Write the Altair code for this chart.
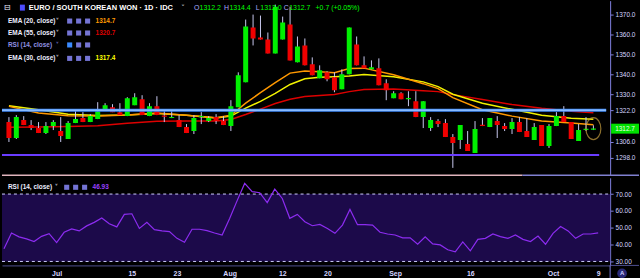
import altair as alt
import pandas as pd
import numpy as np

# ---------------- data ----------------
bar_index = list(range(80))
open_ = [1316, 1308, 1317, 1314.5, 1313, 1310.5, 1314, 1311.5, 1307.5, 1315.5,
         1318, 1316, 1317.5, 1322.5, 1323.5, 1321, 1319, 1324.5, 1327.5, 1319,
         1324, 1319, 1318, 1317, 1313.5, 1311.5, 1318.5, 1316.5, 1318.5, 1316.5,
         1314, 1323.5, 1336, 1363.5, 1358.5, 1357.5, 1350.5, 1357.5, 1365, 1346,
         1354.5, 1345, 1338, 1341, 1338.5, 1332.5, 1340, 1355, 1344.5, 1342.5,
         1343, 1335.5, 1328, 1330.5, 1327.5, 1326.5, 1318.5, 1313, 1316.5, 1315.5,
         1308.5, 1307, 1305, 1300.5, 1314.2, 1313.5, 1316.5, 1314, 1312.5, 1316,
         1311.5, 1307, 1314.5, 1304, 1314, 1319, 1316, 1306.5, 1312, 1312.2]
high = [1318.5, 1319.5, 1319, 1317, 1316, 1316, 1317, 1318.5, 1316.5, 1322.5,
        1321, 1320, 1326, 1325.5, 1325, 1325.5, 1328.5, 1330.5, 1329.5, 1325.5,
        1329, 1322.5, 1321.5, 1319.5, 1315, 1319.5, 1321, 1319, 1320, 1319,
        1327, 1341, 1367.5, 1370, 1369.5, 1361, 1375, 1369, 1374, 1359,
        1358, 1348.5, 1344.5, 1341.5, 1341, 1342.5, 1363.5, 1359, 1349, 1347,
        1348, 1337.5, 1331.5, 1331, 1331.5, 1331.5, 1326.5, 1318.5, 1317.5, 1317.5,
        1310, 1314.5, 1311.5, 1316.5, 1318, 1318, 1319, 1315.5, 1318, 1318.5,
        1318, 1315.5, 1314.5, 1315, 1321, 1324, 1316, 1315, 1318.5, 1314.4]
low = [1306, 1307.5, 1314.5, 1312, 1310.5, 1310, 1312, 1306, 1307.5, 1315.5,
       1316, 1316, 1317.5, 1322.5, 1321, 1319.5, 1319, 1324.5, 1319.5, 1319,
       1319.5, 1316, 1318, 1313.5, 1310.5, 1310, 1315, 1316, 1315, 1314.5,
       1311.5, 1323.5, 1336, 1354.5, 1357.5, 1350.5, 1350.5, 1357.5, 1347, 1346,
       1344.5, 1339.5, 1338, 1336.5, 1331, 1332.5, 1340, 1344.5, 1343, 1342.5,
       1334.5, 1327, 1328, 1327.5, 1324, 1318.5, 1313, 1311.5, 1313.5, 1308.5,
       1293, 1302.5, 1301.5, 1300.5, 1314, 1313.5, 1308, 1311.5, 1310, 1311,
       1308.5, 1307, 1304, 1303, 1314, 1316, 1307.5, 1306.5, 1311.5, 1312.0]
close = [1308, 1318.5, 1314.5, 1313, 1310.5, 1314, 1316, 1309, 1315.5, 1317.5,
         1316, 1319, 1321.5, 1324.5, 1321, 1319.5, 1328, 1328.5, 1319.5, 1324,
         1319.5, 1318.7, 1318.3, 1313.5, 1310.5, 1318, 1318.6, 1318, 1316.5, 1314.5,
         1324, 1339.5, 1364, 1358, 1357.5, 1350.5, 1374, 1366, 1347, 1354,
         1344.5, 1339.5, 1342, 1337.5, 1332, 1340, 1363.5, 1344.5, 1343, 1343.5,
         1334.5, 1332, 1330.5, 1327.5, 1327.6, 1318.5, 1326.5, 1317, 1315, 1308.5,
         1305.5, 1314.5, 1301.5, 1312.5, 1314, 1318, 1314.5, 1312.5, 1316, 1311,
         1308.5, 1313.5, 1304, 1314, 1319, 1316, 1307.5, 1312, 1312.0, 1312.7]

ema_idx = [0, 4, 8, 12, 16, 20, 24, 28, 30, 32, 34, 36, 38, 40, 42, 44, 46, 48,
           52, 56, 58, 60, 64, 68, 72, 76, 79]
ema20 = [1323.9, 1320.6, 1319.2, 1319.0, 1319.6, 1320.6, 1319.4, 1318.2, 1319.4,
         1325.5, 1330.8, 1335.8, 1340.6, 1341.7, 1341.3, 1340.8, 1342.9, 1343.1,
         1339.8, 1335.3, 1332.8, 1328.3, 1322.2, 1319.0, 1316.6, 1315.5, 1314.7]
ema30 = [1324.2, 1322.2, 1319.9, 1319.3, 1319.6, 1320.3, 1319.4, 1318.0, 1319.0,
         1323.0, 1326.4, 1330.4, 1334.9, 1337.8, 1338.5, 1338.8, 1339.1, 1339.9,
         1338.8, 1336.2, 1333.8, 1330.0, 1325.5, 1322.4, 1319.4, 1317.9, 1317.4]
ema55 = [1313.4, 1313.5, 1313.8, 1314.2, 1315.4, 1316.4, 1316.5, 1316.6, 1317.3,
         1319.8, 1322.5, 1325.3, 1327.5, 1328.8, 1329.3, 1329.9, 1331.3, 1332.4,
         1332.6, 1331.8, 1331.3, 1329.8, 1327.3, 1324.8, 1322.9, 1321.5, 1320.7]

rsi = [37.5, 46.9, 44.6, 43.4, 41.8, 44.9, 46.5, 41.2, 47.3, 49.3,
       48.1, 51.1, 53.2, 55.8, 52.4, 50.5, 57.9, 58.3, 49.6, 53.2,
       48.9, 48.1, 47.7, 43.7, 41.4, 49.1, 49.1, 48.3, 46.9, 45.7,
       55.5, 66.1, 76.3, 71.4, 70.8, 64.9, 72.9, 67.4, 55.6, 57.9,
       53.6, 51.2, 52.0, 49.6, 46.7, 51.6, 60.9, 51.8, 51.8, 51.6,
       47.3, 46.3, 45.7, 44.0, 44.0, 40.2, 44.6, 40.4, 39.8, 36.9,
       35.7, 41.6, 36.3, 43.1, 43.7, 46.3, 44.7, 43.7, 45.7, 43.1,
       41.8, 45.1, 40.2, 46.7, 50.7, 48.1, 43.7, 46.3, 46.3, 46.93]

tick_idx = [7, 17, 23, 30, 37, 43, 52, 62, 73, 79]
tick_lbl = ["Jul", "15", "23", "Aug", "12", "20", "Sep", "16", "Oct", "9"]
price_ticks = [1370, 1360, 1350, 1340, 1330, 1322, 1306, 1298]
rsi_ticks = [70, 60, 50, 40, 30]
resistance = [1322.0]
support = [1299.5]
rsi_levels = [70, 30]

# ---------------- layout constants ----------------
W = 611
H_MAIN = 175
H_RSI = 88
FONT = "Liberation Sans"
xs = alt.Scale(domain=[-0.265, 80.59], nice=False, zero=False)
ps = alt.Scale(domain=[1289.5, 1377.0], nice=False, zero=False)
rs = alt.Scale(domain=[27.64, 79.63], nice=False, zero=False)

main_axis = alt.Axis(orient="right", values=price_ticks, format=".1f", title=None, grid=False,
                     labelFontSize=6.5, labelColor="#d4d4ff", labelFont=FONT, tickColor="#8080e0",
                     tickSize=3, domainColor="#8080e0", labelPadding=2)
rsi_axis = alt.Axis(orient="right", values=rsi_ticks, format=".2f", title=None, grid=False,
                    labelFontSize=6.5, labelColor="#d4d4ff", labelFont=FONT, tickColor="#8080e0",
                    tickSize=3, domainColor="#8080e0", labelPadding=2)
lbl_expr = "".join(f"datum.value == {i} ? '{l}' : " for i, l in zip(tick_idx, tick_lbl)) + "''"
x_axis = alt.Axis(values=tick_idx, labelExpr=lbl_expr, title=None, grid=False, ticks=False,
                  domainColor="#505090", labelColor="#d4d4ff", labelFontSize=7,
                  labelFontWeight="bold", labelPadding=4, labelFont=FONT, labelFlush=False,
                  labelOverlap=False)

dummy = alt.Data(values=[{"k": 0}])


def txt(px, py, s, color, size=6.5, weight="bold", align="left", font=FONT):
    return alt.Chart(dummy).mark_text(text=s, align=align, baseline="middle", color=color,
                                      fontSize=size, fontWeight=weight, font=font).encode(
        x=alt.value(px), y=alt.value(py))


def icon(px, py, color):
    return alt.Chart(dummy).mark_square(size=26, color=color, opacity=1).encode(
        x=alt.value(px), y=alt.value(py))


def hrule(data, field, scale, axis, x0, x1, color, width, dash=None):
    kw = dict(color=color, strokeWidth=width)
    if dash:
        kw["strokeDash"] = dash
    return alt.Chart(data).mark_rule(**kw).encode(
        x=alt.value(x0), x2=alt.value(x1), y=alt.Y(field, scale=scale, axis=axis))


# ---------------- main (price) panel ----------------
cd = pd.DataFrame({"i": bar_index, "o": open_, "h": high, "l": low, "c": close})
cd["lo"] = cd[["o", "c"]].min(axis=1)
cd["hi"] = np.maximum(cd[["o", "c"]].max(axis=1), cd["lo"] + 0.6)
cd["dir"] = np.where(cd["c"] >= cd["o"], "up", "down")

ed = pd.DataFrame({"i": ema_idx, "EMA20": ema20, "EMA30": ema30, "EMA55": ema55})


def ema_line(col, color):
    return alt.Chart(ed).mark_line(color=color, strokeWidth=1.5, clip=True).encode(
        x=alt.X("i:Q", scale=xs, axis=None), y=alt.Y(f"{col}:Q", scale=ps, axis=main_axis))


wicks = alt.Chart(cd).mark_rule(color="#c8c8ee", strokeWidth=1, clip=True).encode(
    x=alt.X("i:Q", scale=xs, axis=None), y=alt.Y("l:Q", scale=ps, axis=main_axis), y2="h:Q")
bodies = alt.Chart(cd).mark_bar(width=5, clip=True).encode(
    x=alt.X("i:Q", scale=xs, axis=None), y=alt.Y("lo:Q", scale=ps, axis=main_axis), y2="hi:Q",
    color=alt.Color("dir:N", scale=alt.Scale(domain=["up", "down"], range=["#00f000", "#f00000"]),
                    legend=None))

res_df = pd.DataFrame({"p": resistance})
sup_df = pd.DataFrame({"p": support})
res_outer = hrule(res_df, "p:Q", ps, main_axis, 0, 607, "#3f8cff", 3)
res_inner = hrule(res_df, "p:Q", ps, main_axis, 0, 607, "#b4d8ff", 1)
sup_line = hrule(sup_df, "p:Q", ps, main_axis, 0, 600, "#6a3cff", 2)

last = cd.iloc[[-1]]
ellipse = alt.Chart(last).mark_point(
    shape="M -0.68 0 A 0.68 1 0 1 0 0.68 0 A 0.68 1 0 1 0 -0.68 0 Z",
    size=484, filled=False, stroke="#c8a040", strokeWidth=1.2).encode(
    x=alt.X("i:Q", scale=xs, axis=None), y=alt.Y("c:Q", scale=ps, axis=main_axis))

sep1 = alt.Chart(dummy).mark_rule(color="#e0b4bc", strokeWidth=1.5).encode(
    x=alt.value(0), x2=alt.value(523), y=alt.value(175.5))
sep2 = alt.Chart(dummy).mark_rule(color="#8080d0", strokeWidth=1.5).encode(
    x=alt.value(523), x2=alt.value(640), y=alt.value(175.5))

last_close = close[-1]
box_df = pd.DataFrame({"t": [last_close + 2.5], "b": [last_close - 2.5], "p": [last_close],
                       "s": [f"{last_close:.1f}"]})
price_box = alt.Chart(box_df).mark_rect(color="#00e000").encode(
    x=alt.value(612), x2=alt.value(640), y=alt.Y("t:Q", scale=ps, axis=main_axis), y2="b:Q")
price_txt = alt.Chart(box_df).mark_text(color="#eaffea", fontSize=6.5, font=FONT, align="center",
                                        baseline="middle").encode(
    x=alt.value(626), y=alt.Y("p:Q", scale=ps, axis=main_axis), text="s:N")

chg = close[-1] - close[-2]
GREEN = "#00ff00"
LAV = "#a8a8ff"
WHITE = "#eeeeff"
legend_main = [
    txt(2, 7, "⊟", WHITE, 8, "normal", font="DejaVu Sans"),
    alt.Chart(dummy).mark_rect(color="#4d4dff").encode(
        x=alt.value(18), x2=alt.value(23), y=alt.value(4), y2=alt.value(10)),
    txt(27, 7, "EURO / SOUTH KOREAN WON · 1D · IDC", "#ffffff", 7.5),
    txt(180, 7, "˅", WHITE, 7, "normal", font="DejaVu Sans"),
    txt(193, 7, "O", LAV, 7, "normal"), txt(198.5, 7, f"{open_[-1]:.1f}", GREEN, 7, "normal"),
    txt(223, 7, "H", LAV, 7, "normal"), txt(228.5, 7, f"{high[-1]:.1f}", GREEN, 7, "normal"),
    txt(255, 7, "L", LAV, 7, "normal"), txt(259.5, 7, f"{low[-1]:.1f}", GREEN, 7, "normal"),
    txt(283, 7, "C", LAV, 7, "normal"), txt(288.5, 7, f"{close[-1]:.1f}", GREEN, 7, "normal"),
    txt(315, 7, f"{chg:+.1f} ({chg / close[-2] * 100:+.2f}%)", GREEN, 7, "normal"),
]
rows = [(20.5, "EMA (20, close)", f"{ema20[-1]:.1f}", "#ff9800", WHITE, "#7474d4"),
        (32.5, "EMA (55, close)", f"{ema55[-1]:.1f}", "#dd0000", WHITE, "#7474d4"),
        (44.5, "RSI (14, close)", "", "#9040f0", "#9090e0", "#3b8bff"),
        (58.0, "EMA (30, close)", f"{ema30[-1]:.1f}", "#ffff00", WHITE, "#7474d4")]
for (py, name, val, vcol, ncol, icol) in rows:
    legend_main.append(txt(6, py, name, ncol, 6.5))
    legend_main.append(txt(54, py, "˅", ncol, 6.5, "normal", font="DejaVu Sans"))
    legend_main.append(icon(68, py, icol))
    legend_main.append(icon(77, py, "#7474d4"))
    legend_main.append(icon(86, py, "#7474d4"))
    if val:
        legend_main.append(txt(94, py, val, vcol, 6.5))

main = alt.layer(
    ema_line("EMA55", "#dd0000"), ema_line("EMA30", "#f2f200"), ema_line("EMA20", "#ff9800"),
    wicks, bodies, res_outer, res_inner, sup_line, ellipse, sep1, sep2,
    price_box, price_txt, *legend_main
).properties(width=W, height=H_MAIN)

# ---------------- RSI panel ----------------
rd = pd.DataFrame({"i": bar_index, "rsi": rsi})
band_df = pd.DataFrame({"t": [rsi_levels[0]], "b": [rsi_levels[1]]})
band = alt.Chart(band_df).mark_rect(color="#1c0a4a").encode(
    x=alt.value(0), x2=alt.value(W), y=alt.Y("t:Q", scale=rs, axis=rsi_axis), y2="b:Q")
lv = hrule(pd.DataFrame({"v": rsi_levels}), "v:Q", rs, rsi_axis, 0, W, "#d0d0ff", 1, [3, 3])
rsi_line = alt.Chart(rd).mark_line(color="#8c2cf0", strokeWidth=1.2).encode(
    x=alt.X("i:Q", scale=xs, axis=x_axis), y=alt.Y("rsi:Q", scale=rs, axis=rsi_axis))
ext1 = alt.Chart(dummy).mark_rule(color="#505090", strokeWidth=1).encode(
    x=alt.value(W), x2=alt.value(640), y=alt.value(H_RSI))
ext2 = alt.Chart(dummy).mark_rule(color="#8080e0", strokeWidth=1).encode(
    x=alt.value(W), y=alt.value(H_RSI), y2=alt.value(102))
abtn = alt.Chart(dummy).mark_circle(size=95, color="#2a2a78", opacity=1).encode(
    x=alt.value(623), y=alt.value(96))
rsi_legend = [
    txt(6, 9.5, "RSI (14, close)", WHITE, 6.5),
    txt(53, 9.5, "˅", WHITE, 6.5, "normal", font="DejaVu Sans"),
    icon(65, 9.5, "#7474d4"), icon(74, 9.5, "#7474d4"), icon(83, 9.5, "#7474d4"),
    txt(91, 9.5, f"{rsi[-1]:.2f}", "#9a40ff", 6.5),
    txt(623, 96, "A", "#d0d0ff", 6, "bold", "center"),
]
rsi_panel = alt.layer(band, lv, rsi_line, ext1, ext2, abtn, *rsi_legend).properties(
    width=W, height=H_RSI)

chart = alt.vconcat(main, rsi_panel, spacing=1).properties(
    background="black", padding=0
).configure_view(stroke=None)

chart.save("out.html", embed_options={"renderer": "svg", "actions": False})
